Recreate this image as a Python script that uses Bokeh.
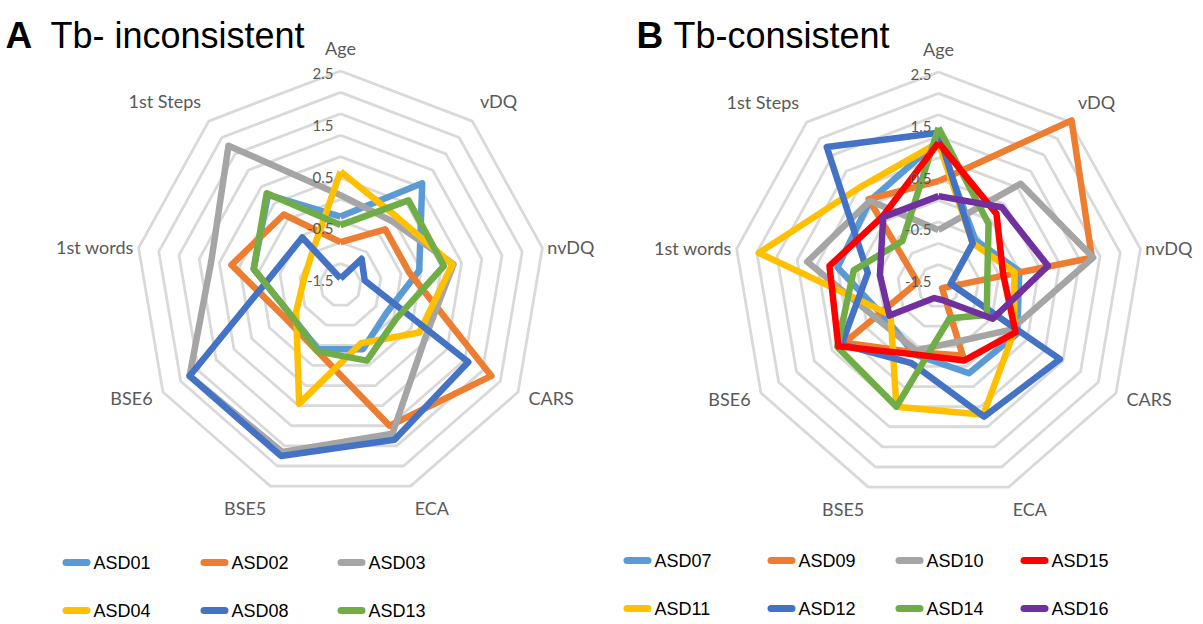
import numpy as np
from bokeh.plotting import figure
from bokeh.models import Range1d
from bokeh.core.properties import value
from bokeh.embed import file_html
from bokeh.resources import INLINE

# ---------------- data ----------------
categories = ["Age", "vDQ", "nvDQ", "CARS", "ECA", "BSE5", "BSE6", "1st words", "1st Steps"]
tick_values = [2.5, 1.5, 0.5, -0.5, -1.5]
tick_labels = ["2.5", "1.5", "0.5", "-0.5", "-1.5"]
ring_values = [-2.0, -1.5, -1.0, -0.5, 0.0, 0.5, 1.0, 1.5, 2.0, 2.5]
axis_min = -2.5
axis_max = 2.5

title_a = "Tb- inconsistent"
title_b = "Tb-consistent"

names_a = ["ASD01", "ASD02", "ASD03", "ASD04", "ASD08", "ASD13"]
colors_a = ["#5B9BD5", "#ED7D31", "#A5A5A5", "#FFC000", "#4472C4", "#70AD47"]
asd01 = [-0.9, 0.6, -0.55, -1.2, -0.9, -0.9, -1.1, -0.35, 0.25]
asd02 = [-1.5, -0.8, -0.8, 1.75, 1.0, -0.85, -0.95, 0.2, -0.35]
asd03 = [-0.4, -0.55, 0.3, -0.1, 1.2, 1.65, 1.75, 0.7, 1.75]
asd04 = [0.15, -0.4, 0.27, -0.28, -1.05, 0.45, -1.25, -1.6, -1.45]
asd08 = [-2.35, -1.7, -1.9, 1.1, 1.35, 1.75, 1.75, -0.85, -1.05]
asd13 = [-1.1, 0.08, 0.06, -0.93, -0.62, -0.85, -1.1, -0.35, 0.3]
values_a = [asd01, asd02, asd03, asd04, asd08, asd13]

names_b = ["ASD07", "ASD09", "ASD10", "ASD15", "ASD11", "ASD12", "ASD14", "ASD16"]
colors_b = ["#5B9BD5", "#ED7D31", "#A5A5A5", "#FF0000", "#FFC000", "#4472C4", "#70AD47", "#7030A0"]
asd07 = [0.9, -1.1, -0.5, -0.28, -0.33, -0.8, -1.0, 0.0, 0.1]
asd09 = [-0.05, 2.55, 1.3, -2.4, -0.77, -0.85, 0.15, -1.98, 0.15]
asd10 = [-1.19, 0.62, 1.33, -0.46, -1.12, -0.9, -0.85, 0.75, 0.1]
asd15 = [0.85, -0.3, -0.9, -0.33, -0.65, -0.8, 0.32, 0.2, -0.38]
asd11 = [0.85, -1.2, -0.62, -0.37, 0.7, 0.5, -1.15, 1.95, 0.5]
asd12 = [1.08, -1.2, -2.2, 0.92, 0.75, -0.58, 0.23, -0.75, 1.74]
asd14 = [1.2, -0.6, -1.29, -1.14, -1.7, 0.5, 0.35, -0.4, -1.13]
asd16 = [-0.4, -0.1, 0.21, -0.97, -2.14, -2.2, -1.12, -1.05, -0.4]
values_b = [asd07, asd09, asd10, asd15, asd11, asd12, asd14, asd16]
draw_order_b = [0, 1, 2, 4, 5, 6, 3, 7]

# ---------------- layout (pixel-like coordinates) ----------------
W, H = 1203, 624
RX, RY = 205.0, 214.0
centers = [(340.0, 284.5), (938.0, 285.5)]
n = len(categories)
theta = np.arange(n) * 2 * np.pi / n

LBL_FONT = value("Lato")
LEG_FONT = value("Liberation Sans")
TXT_GREY = "#595959"


def frac(v):
    return (np.asarray(v, dtype=float) - axis_min) / (axis_max - axis_min)


def polar(cx, cy, vals):
    f = frac(vals)
    x = cx + f * RX * np.sin(theta)
    y = cy - f * RY * np.cos(theta)
    return list(x) + [x[0]], list(y) + [y[0]]


p = figure(width=W, height=H, x_range=Range1d(0, W), y_range=Range1d(H, 0),
           output_backend="svg", toolbar_location=None, x_axis_type=None, y_axis_type=None,
           min_border=0)
p.outline_line_color = None
p.background_fill_color = "white"
p.border_fill_color = "white"

for (cx, cy), vals_list, order, cols in [
        (centers[0], values_a, list(range(len(values_a))), colors_a),
        (centers[1], values_b, draw_order_b, colors_b)]:
    # rings
    xs, ys = [], []
    for rv in ring_values:
        rx, ry = polar(cx, cy, [rv] * n)
        xs.append(rx)
        ys.append(ry)
    p.multi_line(xs, ys, line_color="#D9D9D9", line_width=2.8)
    # category labels
    for k, cat in enumerate(categories):
        s, c = np.sin(theta[k]), np.cos(theta[k])
        d = 5 if abs(c) < 0.3 else 12
        lx = cx + (RX + d) * s
        ly = cy - (RY + d) * c
        align = "left" if s > 0.1 else ("right" if s < -0.1 else "center")
        base = "bottom" if c > 0.5 else ("top" if c < -0.6 else "middle")
        p.text(x=[lx], y=[ly], text=[cat], text_font=LBL_FONT, text_font_size="18px",
               text_color=TXT_GREY, text_align=align, text_baseline=base)
    # series
    for i in order:
        sx, sy = polar(cx, cy, vals_list[i])
        p.line(sx, sy, line_color=cols[i], line_width=6.5, line_join="round")
    # tick labels (drawn over the series, as in the reference)
    for tv, tl in zip(tick_values, tick_labels):
        ty = cy - (51.75 * (tv + 1.5) + 4.5)
        p.text(x=[cx - 7], y=[ty], text=[tl], text_font=LBL_FONT, text_font_size="15px",
               text_color=TXT_GREY, text_align="right", text_baseline="middle")

# titles
p.text(x=[5], y=[35], text=["A"], text_font=LEG_FONT, text_font_size="37px",
       text_font_style="bold", text_color="black", text_baseline="alphabetic")
p.text(x=[50], y=[35], text=[title_a], text_font=LEG_FONT, text_font_size="36px",
       text_color="black", text_baseline="alphabetic")
p.text(x=[636], y=[35], text=["B"], text_font=LEG_FONT, text_font_size="37px",
       text_font_style="bold", text_color="black", text_baseline="alphabetic")
p.text(x=[673], y=[35], text=[title_b], text_font=LEG_FONT, text_font_size="36px",
       text_color="black", text_baseline="alphabetic")

# legends
leg_a_x = [62, 200, 337]
leg_b_x = [623, 767, 895, 1020]
row_y_a = [562, 610]
row_y_b = [560, 608]


def legend(names, cols, col_x, row_y, ncol):
    for i, (nm, col) in enumerate(zip(names, cols)):
        x0 = col_x[i % ncol]
        y0 = row_y[i // ncol]
        p.line([x0 + 3.5, x0 + 24.5], [y0, y0], line_color=col, line_width=7, line_cap="round")
        p.text(x=[x0 + 31], y=[y0], text=[nm], text_font=LEG_FONT, text_font_size="18px",
               text_color="black", text_align="left", text_baseline="middle")


legend(names_a, colors_a, leg_a_x, row_y_a, 3)
legend(names_b, colors_b, leg_b_x, row_y_b, 4)

open("out.html", "w").write(file_html(p, INLINE))
